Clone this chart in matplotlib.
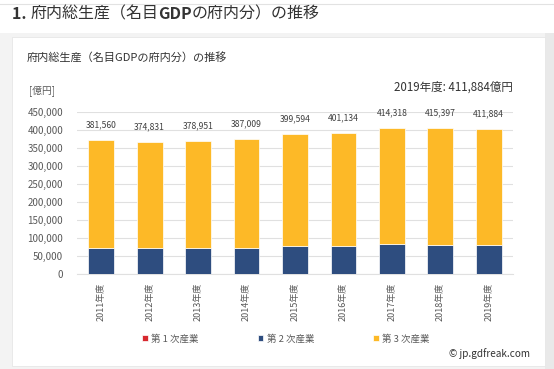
import matplotlib.pyplot as plt
from matplotlib.patches import Rectangle

# === DATA (億円) ===
years = ["2011年度", "2012年度", "2013年度", "2014年度", "2015年度",
         "2016年度", "2017年度", "2018年度", "2019年度"]
primary = [160, 150, 150, 160, 170, 170, 160, 150, 150]
secondary = [73000, 71300, 71000, 72500, 77800, 77800, 84000, 81500, 80500]
tertiary = [299840, 296150, 297850, 303340, 312030, 314630, 320440, 324850, 322150]
totals = [381560, 374831, 378951, 387009, 399594, 401134, 414318, 415397, 411884]
yticks = [0, 50000, 100000, 150000, 200000, 250000, 300000, 350000, 400000, 450000]

C1 = "#D7282F"
C2 = "#2E4D7F"
C3 = "#FDB927"
GRAY = "#595959"

plt.rcParams['font.family'] = ['Noto Sans CJK JP', 'DejaVu Sans']

W, H = 554, 369
fig = plt.figure(figsize=(W / 100, H / 100), dpi=100)

# === PAGE BACKGROUND + CARD ===
fig.patches.append(Rectangle((0, 0), 1, 1 - 33 / H, transform=fig.transFigure,
                             facecolor="#F3F3F3", edgecolor="none", zorder=-3))
fig.patches.append(Rectangle((545 / W, 0), 1, 1 - 33 / H, transform=fig.transFigure,
                             facecolor="#E9E9E9", edgecolor="none", zorder=-3))
fig.patches.append(Rectangle((12 / W, 1 - 366 / H), 533 / W, 329 / H,
                             transform=fig.transFigure, facecolor="white",
                             edgecolor="#E6E6E6", linewidth=0.6, zorder=-2))
fig.lines.append(plt.Line2D([0, 1], [1 - 4 / H, 1 - 4 / H], transform=fig.transFigure,
                            color="#E2E2E2", linewidth=0.8))

# page heading, with bold "1." and "GDP"
renderer = fig.canvas.get_renderer()
xpos = 12
for part, weight in [("1. ", "bold"), ("府内総生産（名目", "normal"), ("GDP", "bold"),
                     ("の府内分）の推移", "normal")]:
    t = fig.text(xpos / W, 1 - 14 / H, part, fontsize=11.5, color="#333333",
                 va="center", ha="left", fontweight=weight)
    xpos += t.get_window_extent(renderer).width

fig.text(27 / W, 1 - 57 / H, "府内総生産（名目GDPの府内分）の推移", fontsize=8,
         color="#333333", va="center", ha="left")
fig.text(29 / W, 1 - 91 / H, "[億円]", fontsize=7, color=GRAY, va="center", ha="left")
fig.text(513 / W, 1 - 87 / H, f"{years[-1]}: {totals[-1]:,}億円", fontsize=8.3,
         color="#333333", va="center", ha="right")
fig.text(530 / W, 1 - 354 / H, "© jp.gdfreak.com", fontsize=7.2,
         color="#333333", va="center", ha="right")

# === STACKED BARS ===
ax = fig.add_axes([77 / W, 1 - 274 / H, 436 / W, 162 / H])
x = list(range(len(years)))
b3_bottom = [p + s for p, s in zip(primary, secondary)]
h1 = ax.bar(x, primary, width=0.53, color=C1, edgecolor="white", linewidth=0.5, zorder=3)
h2 = ax.bar(x, secondary, bottom=primary, width=0.53, color=C2,
            edgecolor="white", linewidth=0.5, zorder=3)
h3 = ax.bar(x, tertiary, bottom=b3_bottom, width=0.53, color=C3,
            edgecolor="white", linewidth=0.5, zorder=3)

for i, (b, t, tot) in enumerate(zip(b3_bottom, tertiary, totals)):
    ax.text(i, b + t + 42000, f"{tot:,}", ha="center", va="center",
            fontsize=6.2, color="#404040")

ax.set_xlim(-0.5, len(years) - 0.5)
ax.set_ylim(0, 450000)
ax.set_yticks(yticks)
ax.set_yticklabels([f"{v:,}" for v in yticks])
ax.set_xticks(x)
ax.set_xticklabels(years, rotation=90)
ax.tick_params(axis="y", length=0, labelsize=7, colors=GRAY, pad=10)
ax.tick_params(axis="x", length=0, labelsize=6.5, colors=GRAY, pad=6)
ax.grid(axis="y", color="#E0E0E0", linewidth=0.8, zorder=0)
ax.set_axisbelow(True)
for s in ["top", "right", "left"]:
    ax.spines[s].set_visible(False)
ax.spines["bottom"].set_color("#E0E0E0")

fig.legend([h1, h2, h3], ["第 1 次産業", "第 2 次産業", "第 3 次産業"],
           loc="center", bbox_to_anchor=(286 / W, 1 - 339 / H), ncol=3,
           frameon=False, fontsize=6.8, labelcolor=GRAY, handlelength=0.6,
           handleheight=0.6, handletextpad=0.4, columnspacing=6.2)

fig.savefig("out.png", dpi=100)
